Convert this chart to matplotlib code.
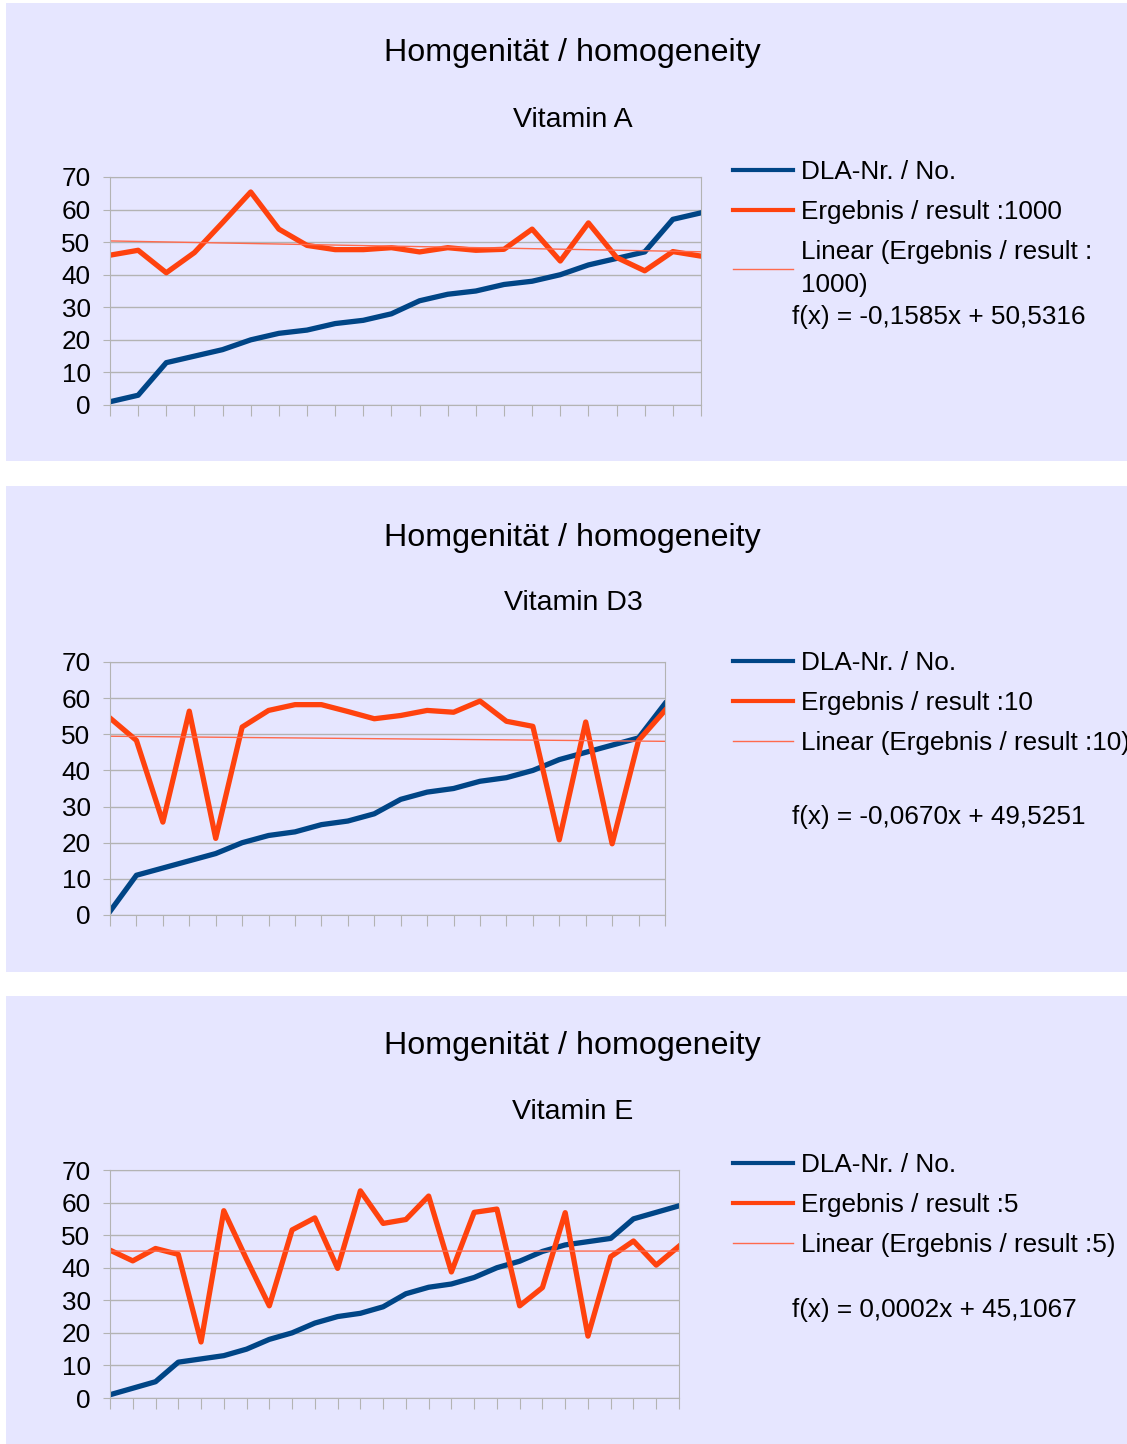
import numpy as np
import matplotlib.pyplot as plt
from matplotlib.patches import Rectangle

plt.rcParams['font.family'] = ['Liberation Sans', 'DejaVu Sans']

# Vitamin A
dla_a = [1, 3, 13, 15, 17, 20, 22, 23, 25, 26, 28, 32, 34, 35, 37, 38, 40, 43, 45, 47, 57, 59]
res_a = [46, 47.5, 40.6, 46.8, 56, 65.4, 54, 49, 47.7, 47.7, 48.3, 47, 48.3, 47.5, 47.8, 54,
         44.2, 55.9, 45.3, 41.2, 47.1, 45.7]
trend_a = (-0.1585, 50.5316)

# Vitamin D3
dla_d = [1, 11, 13, 15, 17, 20, 22, 23, 25, 26, 28, 32, 34, 35, 37, 38, 40, 43, 45, 47, 49, 58.5]
res_d = [54.5, 48.3, 25.7, 56.4, 21.2, 52, 56.6, 58.2, 58.2, 56.3, 54.3, 55.2, 56.6, 56.1, 59.2,
         53.6, 52.2, 20.8, 53.4, 19.7, 48.3, 56.6]
trend_d = (-0.0670, 49.5251)

# Vitamin E
dla_e = [1, 3, 5, 11, 12, 13, 15, 18, 20, 23, 25, 26, 28, 32, 34, 35, 37, 40, 42, 45, 47, 48,
         49, 55, 57, 59]
res_e = [45.4, 42.1, 45.9, 44.1, 17.2, 57.5, 42.6, 28.3, 51.6, 55.3, 39.8, 63.6, 53.6, 54.8, 62,
         38.7, 57, 58, 28.3, 33.9, 56.9, 19, 43.4, 48.2, 40.8, 46.6]
trend_e = (0.0002, 45.1067)

titel = 'Homgenität / homogeneity'
untertitel = ['Vitamin A', 'Vitamin D3', 'Vitamin E']
label_res = ['Ergebnis / result :1000', 'Ergebnis / result :10', 'Ergebnis / result :5']
label_lin = ['Linear (Ergebnis / result :\n1000)', 'Linear (Ergebnis / result :10)',
             'Linear (Ergebnis / result :5)']
gleichung = ['f(x) = -0,1585x + 50,5316', 'f(x) = -0,0670x + 49,5251', 'f(x) = 0,0002x + 45,1067']

W, H = 1127, 1444
fig = plt.figure(figsize=(W / 100, H / 100), dpi=100)
fig.patch.set_facecolor('white')

BG = '#E6E6FF'
BLAU = '#004586'
ORANGE = '#FF420E'
TREND = '#FF6A4D'
GRID = '#B3B3B3'
FS = 18.8

# Pixel-Layout je Panel: (panel oben, panel unten, plot links, plot rechts, plot oben, plot unten,
#                        titel y, untertitel y, legende y, gleichung y)
layout = [
    (3, 461, 110, 701, 177, 405, 53, 120, 160, 317),
    (486, 972, 110, 665, 662, 915, 538, 603, 651, 817),
    (996, 1444, 110, 679, 1170, 1398, 1046, 1112, 1153, 1310),
]

daten = [(dla_a, res_a, trend_a), (dla_d, res_d, trend_d), (dla_e, res_e, trend_e)]

for i, ((dla, res, trend), lay) in enumerate(zip(daten, layout)):
    p_top, p_bot, left, right, top, bot, ty, sy, ly, gy = lay
    fig.patches.append(Rectangle((6 / W, 1 - p_bot / H), 1 - 6 / W, (p_bot - p_top) / H,
                                 transform=fig.transFigure, facecolor=BG, edgecolor='none',
                                 zorder=-5))
    fig.text(572 / W, 1 - ty / H, titel, ha='center', va='center', fontsize=23.2)
    fig.text(573 / W, 1 - sy / H, untertitel[i], ha='center', va='center', fontsize=20.5)

    ax = fig.add_axes([left / W, 1 - bot / H, (right - left) / W, (bot - top) / H])
    ax.set_facecolor(BG)
    x = np.arange(1, len(dla) + 1)
    l1, = ax.plot(x, dla, color=BLAU, lw=3.8, label='DLA-Nr. / No.')
    l2, = ax.plot(x, res, color=ORANGE, lw=3.8, label=label_res[i])
    l3, = ax.plot(x, trend[0] * x + trend[1], color=TREND, lw=1.0, label=label_lin[i])
    ax.set_xlim(1, len(dla))
    ax.set_ylim(0, 70)
    ax.set_yticks(range(0, 71, 10))
    ax.set_xticks(x)
    ax.set_xticklabels([])
    ax.grid(axis='y', color=GRID, lw=1)
    ax.set_axisbelow(True)
    for s in ax.spines.values():
        s.set_color(GRID)
    ax.tick_params(axis='x', length=8, color=GRID)
    ax.tick_params(axis='y', length=5, color=GRID, labelsize=FS, pad=9)

    leg = fig.legend(handles=[l1, l2, l3], loc='upper left', bbox_to_anchor=(733 / W, 1 - ly / H),
                     frameon=False, fontsize=FS, handlelength=2.3, handletextpad=0.3,
                     labelspacing=0.62, borderaxespad=0, borderpad=0)
    for h in leg.legend_handles[:2]:
        h.set_linewidth(3)
    leg.get_texts()[2].set_linespacing(1.45)
    fig.text(792 / W, 1 - gy / H, gleichung[i], ha='left', va='center', fontsize=FS)

fig.savefig('out.png', dpi=100, facecolor='white')
